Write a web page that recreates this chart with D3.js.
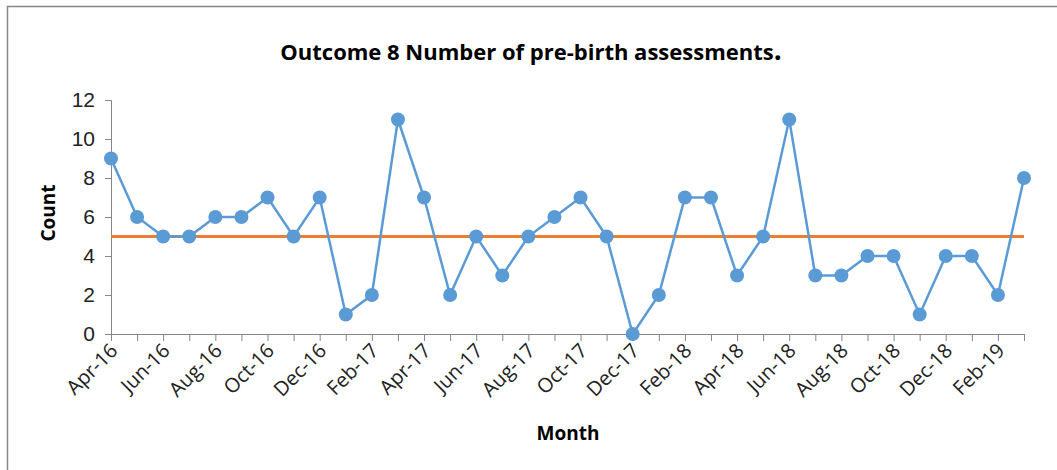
<!DOCTYPE html>
<html>
<head>
<meta charset="utf-8">
<script src="https://cdn.jsdelivr.net/npm/d3@7"></script>
<style>
  html, body { margin: 0; padding: 0; background: #fff; }
  svg { display: block; font-family: "Open Sans", "Liberation Sans", sans-serif; }
</style>
</head>
<body>
<svg id="chart" width="1057" height="470"></svg>
<script>
// Monthly counts, Apr 2016 – Mar 2019
const months = [
  "Apr-16","May-16","Jun-16","Jul-16","Aug-16","Sep-16","Oct-16","Nov-16","Dec-16",
  "Jan-17","Feb-17","Mar-17","Apr-17","May-17","Jun-17","Jul-17","Aug-17","Sep-17",
  "Oct-17","Nov-17","Dec-17","Jan-18","Feb-18","Mar-18","Apr-18","May-18","Jun-18",
  "Jul-18","Aug-18","Sep-18","Oct-18","Nov-18","Dec-18","Jan-19","Feb-19","Mar-19"
];
const counts = [9,6,5,5,6,6,7,5,7,1,2,11,7,2,5,3,5,6,7,5,0,2,7,7,3,5,11,3,3,4,4,1,4,4,2,8];
const targetLevel = 5;
const yTicks = [0,2,4,6,8,10,12];

const svg = d3.select("#chart");

// outer frame
svg.append("path")
  .attr("d", "M7.5,470 V6.5 H1057")
  .attr("fill", "none").attr("stroke", "#868686").attr("stroke-width", 1.5);

const x = d3.scalePoint().domain(months).range([111, 1024]);
const y = d3.scaleLinear().domain([0, 12]).range([334, 100]);

// y axis
const yAxis = svg.append("g").attr("transform", "translate(111,0)")
  .call(d3.axisLeft(y).tickValues(yTicks).tickSize(6).tickPadding(10));
yAxis.select(".domain").attr("stroke", "#868686");
yAxis.selectAll(".tick line").attr("stroke", "#868686");
yAxis.selectAll(".tick text").attr("font-size", 21).attr("fill", "#222");

// x axis
const xAxis = svg.append("g").attr("transform", "translate(0,334)")
  .call(d3.axisBottom(x).tickSize(7).tickSizeOuter(0).tickFormat(""));
xAxis.select(".domain").attr("stroke", "#868686");
xAxis.selectAll(".tick line").attr("stroke", "#868686");

// every other month label, rotated
svg.append("g").selectAll("text")
  .data(months.filter((d, i) => i % 2 === 0))
  .join("text")
  .attr("transform", d => `translate(${x(d) + 3},${347}) rotate(-45)`)
  .attr("text-anchor", "end")
  .attr("dy", "0.35em")
  .attr("font-size", 20)
  .attr("fill", "#222")
  .text(d => d);

// target line
svg.append("line")
  .attr("x1", x(months[0])).attr("x2", x(months[months.length - 1]))
  .attr("y1", y(targetLevel)).attr("y2", y(targetLevel))
  .attr("stroke", "#ED7D31").attr("stroke-width", 3);

// series line + markers
const data = months.map((m, i) => ({ m, v: counts[i] }));
svg.append("path")
  .datum(data)
  .attr("fill", "none")
  .attr("stroke", "#5B9BD5")
  .attr("stroke-width", 2.5)
  .attr("d", d3.line().x(d => x(d.m)).y(d => y(d.v)));

svg.append("g").selectAll("circle")
  .data(data)
  .join("circle")
  .attr("cx", d => x(d.m))
  .attr("cy", d => y(d.v))
  .attr("r", 7)
  .attr("fill", "#5B9BD5");

// titles
const title = svg.append("text")
  .attr("x", 531).attr("y", 60)
  .attr("text-anchor", "middle")
  .attr("font-size", 22).attr("font-weight", "bold").attr("fill", "#000");
title.append("tspan").text("Outcome 8 Number of pre-birth assessments");
title.append("tspan").attr("font-size", 28).text(".");

svg.append("text")
  .attr("x", 568).attr("y", 440)
  .attr("text-anchor", "middle")
  .attr("font-size", 19).attr("font-weight", "bold").attr("fill", "#000")
  .text("Month");

svg.append("text")
  .attr("transform", "translate(55,213) rotate(-90)")
  .attr("text-anchor", "middle")
  .attr("font-size", 19).attr("font-weight", "bold").attr("fill", "#000")
  .text("Count");
</script>
</body>
</html>
